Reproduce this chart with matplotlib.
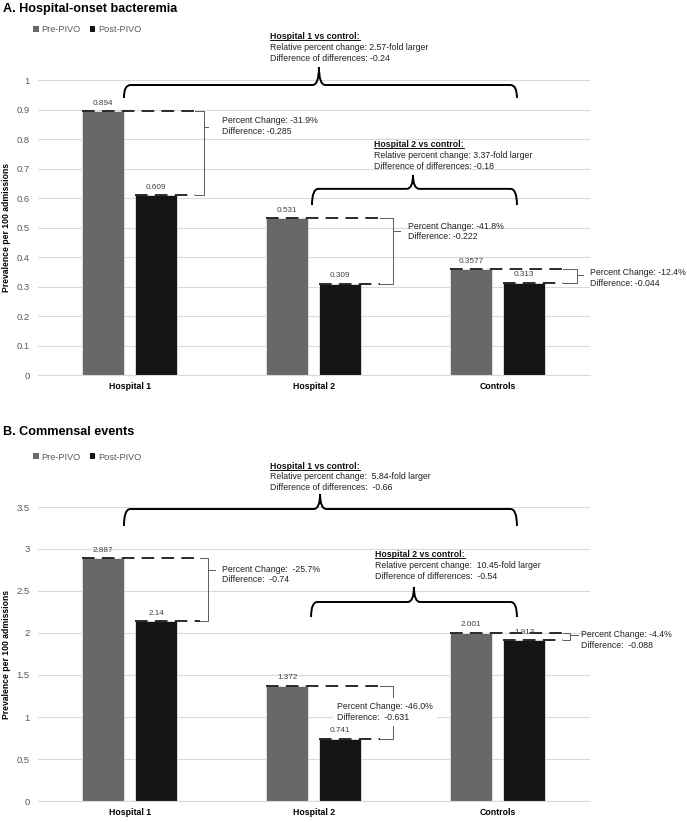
import matplotlib
matplotlib.use('Agg')
import matplotlib.pyplot as plt
from matplotlib.path import Path
from matplotlib.patches import PathPatch, Patch
from matplotlib.lines import Line2D

plt.rcParams['font.family'] = ['Liberation Sans', 'DejaVu Sans']

# data
groups = ['Hospital 1', 'Hospital 2', 'Controls']
bact_pre = [0.894, 0.531, 0.3577]
bact_post = [0.609, 0.309, 0.313]
comm_pre = [2.887, 1.372, 2.001]
comm_post = [2.14, 0.741, 1.913]

bact_pct = ['Percent Change: -31.9%\nDifference: -0.285',
            'Percent Change: -41.8%\nDifference: -0.222',
            'Percent Change: -12.4%\nDifference: -0.044']
comm_pct = ['Percent Change:  -25.7%\nDifference:  -0.74',
            'Percent Change: -46.0%\nDifference:  -0.631',
            'Percent Change: -4.4%\nDifference:  -0.088']

bact_vs = [('Hospital 1 vs control:', 'Relative percent change: 2.57-fold larger', 'Difference of differences: -0.24'),
           ('Hospital 2 vs control:', 'Relative percent change: 3.37-fold larger', 'Difference of differences: -0.18')]
comm_vs = [('Hospital 1 vs control:', 'Relative percent change:  5.84-fold larger', 'Difference of differences:  -0.66'),
           ('Hospital 2 vs control:', 'Relative percent change:  10.45-fold larger', 'Difference of differences:  -0.54')]

PRE_C = '#686868'
POST_C = '#151515'
W, H = 687, 822

fig = plt.figure(figsize=(W / 100, H / 100), dpi=100)


def fx(px):
    return px / W


def fy(py):
    return 1 - py / H


axA = fig.add_axes([fx(38), fy(375), 552 / W, 295 / H])
axB = fig.add_axes([fx(38), fy(801), 552 / W, 294 / H])

headers = []


def brace(ax, x0, x1, xm, yh, yend, ypeak, rx=0.035):
    verts = [(x0, yend), (x0, yh), (x0 + rx, yh),
             (xm - rx, yh), (xm, yh), (xm, ypeak),
             (xm, yh), (xm + rx, yh),
             (x1 - rx, yh), (x1, yh), (x1, yend)]
    codes = [Path.MOVETO, Path.CURVE3, Path.CURVE3, Path.LINETO,
             Path.CURVE3, Path.CURVE3, Path.CURVE3, Path.CURVE3,
             Path.LINETO, Path.CURVE3, Path.CURVE3]
    ax.add_patch(PathPatch(Path(verts, codes), fill=False, lw=1.4,
                           edgecolor='black', clip_on=False, zorder=5))


def vs_text(ax, x, y, lines):
    t = ax.annotate(lines[0], (x, y), fontsize=6.3, fontweight='bold', va='center',
                    color='#111111', annotation_clip=False)
    headers.append(t)
    for i, s in enumerate(lines[1:]):
        ax.annotate(s, (x, y), xytext=(0, -7.6 * (i + 1)), textcoords='offset points',
                    fontsize=6.3, va='center', color='#222222', annotation_clip=False)


def panel(ax, pre, post, ymax, step, pct_texts, pct_pos, vs_texts, vs_pos):
    x = range(len(groups))
    w = 0.228
    xpre = [i - 0.145 for i in x]
    xpost = [i + 0.143 for i in x]
    ax.bar(xpre, pre, w, color=PRE_C, edgecolor='#e6e6e6', lw=0.6, zorder=2)
    ax.bar(xpost, post, w, color=POST_C, edgecolor='#e6e6e6', lw=0.6, zorder=2)
    for xs, vals in ((xpre, pre), (xpost, post)):
        for xi, v in zip(xs, vals):
            ax.annotate(str(v), (xi, v), xytext=(0, 3.2), textcoords='offset points',
                        ha='center', va='bottom', fontsize=5.9, color='#404040', zorder=6)

    ax.set_xlim(-0.5, len(groups) - 0.5)
    ax.set_ylim(0, ymax)
    n = int(round(ymax / step))
    ticks = [round(k * step, 2) for k in range(n + 1)]
    ax.set_yticks(ticks)
    ax.set_yticklabels([('%g' % t) for t in ticks])
    ax.set_xticks(list(x))
    ax.set_xticklabels(groups, fontweight='bold', fontsize=6.3)
    ax.tick_params(axis='y', length=0, pad=6, labelsize=6.8, labelcolor='#595959')
    ax.tick_params(axis='x', length=0, pad=5)
    ax.grid(axis='y', color='#d9d9d9', lw=0.8, zorder=0)
    ax.set_axisbelow(True)
    for s in ['top', 'right', 'left']:
        ax.spines[s].set_visible(False)
    ax.spines['bottom'].set_color('#d9d9d9')
    ax.spines['bottom'].set_linewidth(0.8)

    # percent-change brackets
    for i, (txt, pos) in enumerate(zip(pct_texts, pct_pos)):
        xd, xb, ytick, xt, xtx, ytx, boxed = pos
        ax.plot([xpre[i] - w / 2, xd], [pre[i]] * 2, ls=(0, (7, 4)), lw=1.3,
                color='#1a1a1a', zorder=4, clip_on=False)
        ax.plot([xpost[i] - w / 2, xd], [post[i]] * 2, ls=(0, (7, 4)), lw=1.3,
                color='#1a1a1a', zorder=4, clip_on=False)
        ax.plot([xd, xb, xb, xd], [pre[i], pre[i], post[i], post[i]],
                color='#595959', lw=0.7, zorder=4, clip_on=False)
        if ytick is not None:
            ax.plot([xb, xt], [ytick] * 2, color='#595959', lw=0.7, zorder=4, clip_on=False)
        kw = {}
        if boxed:
            kw['bbox'] = dict(boxstyle='square,pad=0.45', facecolor='white', edgecolor='none')
        ax.text(xtx, ytx, txt, fontsize=6.3, va='center', ha='left', color='#222222',
                linespacing=1.2, zorder=7, clip_on=False, **kw)

    for lines, bpos in zip(vs_texts, vs_pos):
        x0, x1, xm, yh, yend, ypeak, tx, ty = bpos
        brace(ax, x0, x1, xm, yh, yend, ypeak)
        vs_text(ax, tx, ty, lines)


panel(axA, bact_pre, bact_post, 1.0, 0.1, bact_pct,
      [(0.353, 0.400, 0.841, 0.424, 0.50, 0.844, False),
       (1.359, 1.429, 0.488, 1.467, 1.511, 0.486, False),
       (2.353, 2.429, 0.339, 2.462, 2.50, 0.329, False)],
      bact_vs,
      [(-0.033, 2.103, 1.027, 0.983, 0.939, 1.044, 0.761, 1.146),
       (0.989, 2.103, 1.538, 0.631, 0.576, 0.678, 1.326, 0.780)])

panel(axB, comm_pre, comm_post, 3.5, 0.5, comm_pct,
      [(0.380, 0.424, 2.750, 0.462, 0.50, 2.696, False),
       (1.359, 1.429, None, None, 1.125, 1.060, True),
       (2.353, 2.391, 1.976, 2.435, 2.45, 1.917, False)],
      comm_vs,
      [(-0.033, 2.103, 1.033, 3.476, 3.274, 3.655, 0.761, 3.988),
       (0.984, 2.103, 1.543, 2.369, 2.190, 2.548, 1.332, 2.929)])

# titles, y labels, legends
fig.text(fx(3), fy(9), 'A. Hospital-onset bacteremia', fontsize=9.1, fontweight='bold', va='center')
fig.text(fx(3), fy(432), 'B. Commensal events', fontsize=9.1, fontweight='bold', va='center')
for yc in (227, 654):
    fig.text(fx(7), fy(yc), 'Prevalence per 100 admissions', rotation=90, fontsize=6.2,
             fontweight='bold', ha='center', va='center')

handles = [Patch(facecolor=PRE_C, label='Pre-PIVO'), Patch(facecolor=POST_C, label='Post-PIVO')]
for ax, ly in ((axA, 30), (axB, 457)):
    ax.legend(handles=handles, loc='center left', bbox_to_anchor=(fx(33), fy(ly)),
              bbox_transform=fig.transFigure, ncol=2, frameon=False, fontsize=6.6,
              handlelength=0.6, handleheight=0.6, handletextpad=0.3, columnspacing=1.0,
              labelcolor='#595959', borderaxespad=0, borderpad=0)

# underline the comparison headers
fig.canvas.draw()
r = fig.canvas.get_renderer()
for t in headers:
    bb = t.get_window_extent(r)
    yline = bb.y0 + 1.0
    fig.add_artist(Line2D([bb.x0 / W, bb.x1 / W], [yline / H] * 2, color='#111111', lw=0.7))

fig.savefig('out.png', dpi=100)
